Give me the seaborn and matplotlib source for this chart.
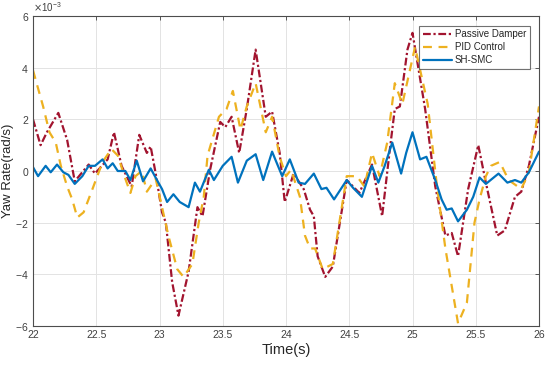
import numpy as np
import pandas as pd
import matplotlib
matplotlib.use("Agg")
import matplotlib.pyplot as plt
import seaborn as sns
from matplotlib.ticker import ScalarFormatter

# valores (yaw rate en 1e-3 rad/s)
t_pasivo = [22.00, 22.06, 22.11, 22.20, 22.27, 22.33, 22.44, 22.49, 22.59, 22.64,
            22.70, 22.78, 22.84, 22.90, 22.93, 22.97, 23.02, 23.05, 23.10, 23.15,
            23.23, 23.30, 23.34, 23.40, 23.48, 23.52, 23.57, 23.63, 23.69, 23.76,
            23.84, 23.89, 23.95, 23.99, 24.06, 24.14, 24.19, 24.22, 24.25, 24.31,
            24.37, 24.48, 24.58, 24.68, 24.76, 24.82, 24.86, 24.90, 24.96, 25.00,
            25.10, 25.18, 25.26, 25.31, 25.36, 25.44, 25.52, 25.58, 25.67, 25.73,
            25.81, 25.86, 25.92, 26.00]
y_pasivo = [2.0, 1.0, 1.5, 2.25, 1.2, -0.4, 0.25, -0.1, 0.45, 1.5,
            0.2, -0.6, 1.4, 0.7, 0.95, -0.1, -1.6, -2.0, -4.3, -5.6,
            -3.9, -1.4, -1.75, 0.05, 1.9, 1.7, 2.1, 0.7, 2.4, 4.7,
            2.1, 2.3, 0.7, -1.2, -0.1, -0.7, -1.5, -1.75, -3.3, -4.1,
            -3.7, -0.35, -0.85, 0.25, -1.75, 0.8, 2.4, 2.5, 4.7, 5.35,
            2.4, -0.6, -2.5, -2.4, -3.3, -0.7, 1.0, -0.45, -2.5, -2.3,
            -1.0, -0.8, 0.2, 2.1]

t_pid = [22.00, 22.08, 22.13, 22.18, 22.22, 22.27, 22.31, 22.35, 22.40, 22.47,
         22.55, 22.62, 22.67, 22.73, 22.77, 22.81, 22.86, 22.90, 22.97, 23.07,
         23.14, 23.19, 23.26, 23.31, 23.35, 23.38, 23.47, 23.53, 23.58, 23.64,
         23.69, 23.76, 23.84, 23.89, 23.95, 24.00, 24.04, 24.11, 24.15, 24.19,
         24.23, 24.29, 24.37, 24.48, 24.56, 24.62, 24.68, 24.74, 24.80, 24.86,
         24.92, 25.02, 25.12, 25.19, 25.26, 25.36, 25.43, 25.49, 25.53, 25.58,
         25.62, 25.69, 25.76, 25.86, 25.92, 26.00]
y_pid = [3.9, 2.5, 1.5, 1.1, 0.2, -0.6, -1.1, -1.8, -1.6, -0.7,
         0.35, 0.85, 0.6, -0.3, -0.85, -0.2, 0.0, -0.8, -0.3, -2.5,
         -3.8, -4.1, -3.6, -2.0, -1.0, 0.6, 2.1, 2.4, 3.1, 1.6,
         2.5, 3.4, 1.5, 2.1, 0.55, -0.2, 0.05, -1.0, -2.5, -3.0,
         -3.0, -3.8, -3.6, -0.2, -0.2, -0.6, 0.7, -0.2, 1.1, 3.4,
         2.6, 4.8, 2.6, -0.45, -3.0, -5.9, -5.1, -2.0, -1.1, -0.2,
         0.2, 0.35, -0.35, -0.7, -0.05, 2.5]

t_smc = [22.00, 22.04, 22.10, 22.14, 22.19, 22.24, 22.28, 22.33, 22.39, 22.44,
         22.49, 22.55, 22.59, 22.63, 22.67, 22.73, 22.77, 22.82, 22.87, 22.93,
         22.98, 23.02, 23.06, 23.11, 23.16, 23.23, 23.28, 23.32, 23.39, 23.43,
         23.50, 23.57, 23.62, 23.69, 23.76, 23.82, 23.89, 23.97, 24.03, 24.10,
         24.15, 24.22, 24.28, 24.32, 24.38, 24.48, 24.53, 24.60, 24.68, 24.73,
         24.78, 24.84, 24.91, 24.95, 25.00, 25.06, 25.11, 25.18, 25.23, 25.27,
         25.31, 25.36, 25.43, 25.48, 25.53, 25.58, 25.68, 25.75, 25.81, 25.86,
         25.92, 26.00]
y_smc = [0.15, -0.2, 0.2, -0.05, 0.25, -0.05, -0.15, -0.5, -0.2, 0.2,
         0.2, 0.45, 0.1, 0.3, 0.0, 0.0, -0.35, 0.4, -0.4, 0.1,
         -0.35, -0.7, -1.2, -0.9, -1.2, -1.4, -0.45, -0.8, 0.05, -0.35,
         0.2, 0.55, -0.45, 0.4, 0.65, -0.35, 0.75, -0.2, 0.45, -0.45,
         -0.5, -0.1, -0.7, -0.65, -1.1, -0.35, -0.65, -1.0, 0.2, -0.45,
         0.2, 1.1, -0.1, 0.7, 1.5, 0.45, 0.55, -0.35, -1.1, -1.5,
         -1.45, -1.95, -1.5, -1.0, -0.25, -0.5, -0.1, -0.45, -0.35, -0.45,
         -0.05, 0.75]

nombres = ["Passive Damper", "PID Control", "SH-SMC"]

df = pd.concat([
    pd.DataFrame({"t": t_pasivo, "y": np.array(y_pasivo) * 1e-3, "serie": nombres[0]}),
    pd.DataFrame({"t": t_pid, "y": np.array(y_pid) * 1e-3, "serie": nombres[1]}),
    pd.DataFrame({"t": t_smc, "y": np.array(y_smc) * 1e-3, "serie": nombres[2]}),
])

sns.set_style("white")
plt.rcParams["font.family"] = ["Liberation Sans", "DejaVu Sans"]

colores = {"Passive Damper": "#A2142F", "PID Control": "#EDB120", "SH-SMC": "#0072BD"}
estilos = {"Passive Damper": (3.5, 1.2, 1, 1.2), "PID Control": (4, 3), "SH-SMC": ""}

fig = plt.figure(figsize=(5.5, 3.65), dpi=100)
ax = fig.add_axes([0.06, 0.107, 0.92, 0.849])

sns.lineplot(data=df, x="t", y="y", hue="serie", style="serie",
             palette=colores, dashes=estilos, hue_order=nombres, style_order=nombres,
             linewidth=1.6, sort=True, estimator=None, ax=ax)

ax.set_xlim(22, 26)
ax.set_ylim(-6e-3, 6e-3)
ax.set_xticks(np.arange(22, 26.01, 0.5))
ax.set_xticklabels(["22", "22.5", "23", "23.5", "24", "24.5", "25", "25.5", "26"])
ax.set_yticks(np.arange(-6e-3, 6.01e-3, 2e-3))

fmt = ScalarFormatter(useMathText=True)
fmt.set_powerlimits((-3, -3))
ax.yaxis.set_major_formatter(fmt)
ax.yaxis.get_offset_text().set_fontsize(7)
ax.yaxis.get_offset_text().set_color("#404040")

ax.grid(True, color="#e3e3e3", linewidth=0.7)
for s in ax.spines.values():
    s.set_color("#4d4d4d")
    s.set_linewidth(0.8)
ax.tick_params(direction="in", length=3, width=0.6, labelsize=7.5,
               colors="#404040", top=True, right=True, pad=3)

ax.set_xlabel("Time(s)", fontsize=10.5, color="#262626", labelpad=2)
ax.set_ylabel("Yaw Rate(rad/s)", fontsize=9.5, color="#262626", labelpad=1)
ax.yaxis.set_label_coords(-0.038, 0.5)

leg = ax.legend(loc="upper right", fontsize=7, handlelength=3.0, frameon=True,
                fancybox=False, borderpad=0.4, labelspacing=0.3,
                handletextpad=0.3, bbox_to_anchor=(0.992, 0.985))
leg.get_frame().set_edgecolor("#4d4d4d")
leg.get_frame().set_linewidth(0.8)

fig.savefig("out.png", dpi=100)
